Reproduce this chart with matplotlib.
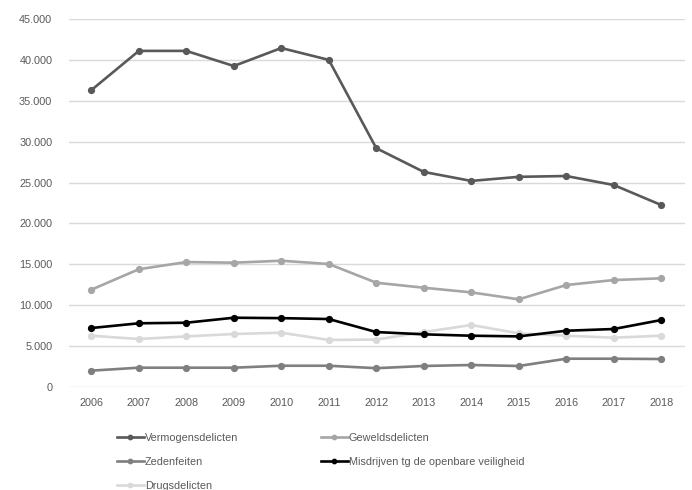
import matplotlib.pyplot as plt
from matplotlib.ticker import FuncFormatter

years = list(range(2006, 2019))

# registered offences per category
vermogensdelicten = [36300, 41100, 41100, 39250, 41450, 40000, 29200, 26300, 25200, 25700, 25800, 24700, 22250]
geweldsdelicten = [11900, 14400, 15280, 15200, 15440, 15040, 12750, 12140, 11570, 10720, 12470, 13080, 13290]
zedenfeiten = [2000, 2360, 2360, 2360, 2600, 2600, 2300, 2570, 2690, 2570, 3460, 3460, 3420]
misdrijven = [7210, 7790, 7860, 8470, 8420, 8310, 6720, 6440, 6270, 6190, 6880, 7090, 8190]
drugsdelicten = [6270, 5870, 6190, 6480, 6640, 5750, 5800, 6720, 7580, 6560, 6270, 6030, 6270]

series = [
    ("Vermogensdelicten", vermogensdelicten, "#595959"),
    ("Geweldsdelicten", geweldsdelicten, "#a6a6a6"),
    ("Zedenfeiten", zedenfeiten, "#7f7f7f"),
    ("Misdrijven tg de openbare veiligheid", misdrijven, "#000000"),
    ("Drugsdelicten", drugsdelicten, "#d9d9d9"),
]

plt.rcParams['font.family'] = ['Liberation Sans', 'DejaVu Sans']

fig = plt.figure(figsize=(6.92, 4.9), dpi=100)
ax = fig.add_axes([69 / 692, 1 - 387 / 490, (685 - 69) / 692, (387 - 19) / 490])

lines = {}
# draw lightest first so dark lines sit on top
for name, vals, col in [series[4], series[2], series[1], series[0], series[3]]:
    ln, = ax.plot(years, vals, color=col, lw=1.9, marker="o", markersize=4.2, label=name)
    lines[name] = ln

ax.set_ylim(0, 45000)
ax.set_xlim(2006 - 0.47, 2018 + 0.5)
ax.set_yticks(range(0, 45001, 5000))
ax.set_xticks(years)
ax.yaxis.set_major_formatter(FuncFormatter(lambda v, p: f"{int(v):,}".replace(",", ".")))
ax.grid(axis="y", color="#d9d9d9", lw=1)
ax.set_axisbelow(True)
for s in ax.spines.values():
    s.set_visible(False)
ax.tick_params(length=0, labelsize=7.8, colors="#595959", pad=8)
ax.tick_params(axis="y", pad=12)

# column-first ordering gives the two-column layout of the original
order = ["Vermogensdelicten", "Zedenfeiten", "Drugsdelicten", "Geweldsdelicten",
         "Misdrijven tg de openbare veiligheid"]
leg = fig.legend([lines[n] for n in order], order, loc="upper left",
                 bbox_to_anchor=(107 / 692, 1 - 423 / 490), ncol=2, frameon=False,
                 fontsize=7.8, handlelength=2.5, handletextpad=0.1, markerscale=0.75,
                 columnspacing=7.6, labelspacing=1.3, labelcolor="#595959")

fig.savefig("out.png", dpi=100)
